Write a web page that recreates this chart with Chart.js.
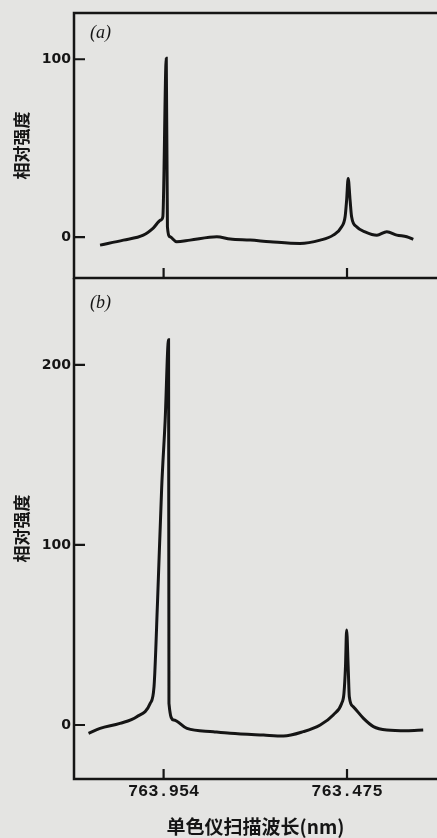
<!DOCTYPE html>
<html>
<head>
<meta charset="utf-8">
<script src="https://cdn.jsdelivr.net/npm/chart.js@4"></script>
<style>
  html, body { margin: 0; padding: 0; background: #e4e4e2; }
  #wrap { position: relative; width: 437px; height: 838px; overflow: hidden; }
  canvas { position: absolute; left: 0; }
  #ca { top: 0; }
  #cb { top: 278px; }
</style>
</head>
<body>
<div id="wrap">
  <canvas id="ca" width="437" height="280"></canvas>
  <canvas id="cb" width="437" height="560"></canvas>
</div>
<script>
// ---- data ----
const xTickValues = [763.954, 763.475];
const xTickLabels = ['763.954', '763.475'];
const yTicksA = [0, 100];
const yTicksB = [0, 100, 200];
const yTitle = '相对强度';
const xTitle = '单色仪扫描波长(nm)';
const panelLabels = ['(a)', '(b)'];

// panel (a): monochromator wavelength (nm) vs relative intensity
const wavelengthA = [764.120, 764.059, 764.007, 763.981, 763.961, 763.956, 763.947, 763.944, 763.937,
  763.920, 763.885, 763.815, 763.780, 763.728, 763.676, 763.598, 763.545, 763.511, 763.489, 763.480,
  763.476, 763.472, 763.467, 763.463, 763.450, 763.428, 763.397, 763.371, 763.345, 763.319, 763.302];
const intensityA = [-4.5, -1.7, 1.1, 5.1, 9.6, 11.4, 100.5, 5.8, 0.2,
  -2.6, -1.7, 0.2, -1.1, -1.7, -2.6, -3.6, -1.7, 1.1, 5.8, 11.4,
  20.8, 33, 20.8, 11.4, 5.8, 3.0, 1.1, 3.0, 1.1, 0.2, -1.3];

// panel (b)
const wavelengthB = [764.150, 764.120, 764.068, 764.024, 763.989, 763.979, 763.970, 763.959, 763.950,
  763.941, 763.940, 763.928, 763.893, 763.824, 763.780, 763.693, 763.641, 763.589, 763.545, 763.511,
  763.489, 763.483, 763.479, 763.476, 763.472, 763.469, 763.459, 763.432, 763.406, 763.371, 763.319, 763.276];
const intensityB = [-4.6, -1.9, 0.9, 4.6, 12, 21.3, 67.6, 132, 169,
  214, 12, 2.8, -1.9, -3.7, -4.6, -5.6, -6.1, -3.7, 0, 5.6,
  12, 17.6, 32.4, 52.8, 32.4, 15.7, 10.2, 3.7, -0.9, -2.8, -3.2, -2.8];

const xMin = 763.240, xMax = 764.188;
const INK = '#151515';

const framePlugin = {
  id: 'frame',
  afterDraw(chart, args, opts) {
    const {ctx, chartArea: {left, top, right, bottom}} = chart;
    const xs = chart.scales.x, ys = chart.scales.y;
    ctx.save();
    ctx.strokeStyle = INK;
    ctx.lineWidth = 2.5;
    ctx.lineCap = 'square';
    ctx.beginPath();
    if (opts.drawTop) { ctx.moveTo(left, top); ctx.lineTo(right, top); }
    ctx.moveTo(left, top); ctx.lineTo(left, bottom); ctx.lineTo(right, bottom);
    ctx.stroke();
    ctx.lineCap = 'butt';
    ctx.lineWidth = 2.2;
    ctx.beginPath();
    opts.yTicks.forEach(v => {
      const py = ys.getPixelForValue(v);
      ctx.moveTo(left, py); ctx.lineTo(left + 11, py);
    });
    xTickValues.forEach(v => {
      const px = xs.getPixelForValue(v);
      ctx.moveTo(px, bottom); ctx.lineTo(px, bottom - 10);
    });
    ctx.stroke();
    ctx.fillStyle = INK;
    ctx.font = 'italic 18px "Liberation Serif"';
    ctx.textBaseline = 'middle';
    ctx.textAlign = 'left';
    ctx.fillText(opts.label, left + 16, top + opts.labelDy);
    ctx.restore();
  }
};

function yAxis(min, max, ticks) {
  return {
    type: 'linear', min, max,
    grid: { display: false, drawTicks: false },
    border: { display: false },
    afterBuildTicks: s => { s.ticks = ticks.map(v => ({ value: v })); },
    afterFit: s => { s.width = 74; s.paddingTop = 0; s.paddingBottom = 0; },
    ticks: {
      padding: 3, color: INK,
      font: { family: 'DejaVu Sans', size: 14, weight: 'bold' },
      callback: v => String(v)
    },
    title: {
      display: true, text: yTitle, color: INK,
      font: { family: 'Noto Sans CJK SC', size: 17, weight: 'bold' },
      padding: { top: 11, bottom: 0 }
    }
  };
}

function dataset(xs, ys) {
  return {
    data: xs.map((x, i) => ({ x, y: ys[i] })),
    borderColor: INK, borderWidth: 3, pointRadius: 0,
    cubicInterpolationMode: 'monotone', fill: false
  };
}

new Chart(document.getElementById('ca'), {
  type: 'line',
  data: { datasets: [dataset(wavelengthA, intensityA)] },
  options: {
    responsive: false, animation: false,
    layout: { padding: { top: 13, bottom: 2, left: 0, right: 0 } },
    plugins: { legend: { display: false }, tooltip: { enabled: false },
      frame: { drawTop: true, yTicks: yTicksA, label: panelLabels[0], labelDy: 20 } },
    scales: {
      x: { type: 'linear', min: xMin, max: xMax, reverse: true, display: false },
      y: yAxis(-23, 126, yTicksA)
    }
  },
  plugins: [framePlugin]
});

new Chart(document.getElementById('cb'), {
  type: 'line',
  data: { datasets: [dataset(wavelengthB, intensityB)] },
  options: {
    responsive: false, animation: false,
    layout: { padding: { top: 0, bottom: 0, left: 0, right: 0 } },
    plugins: { legend: { display: false }, tooltip: { enabled: false },
      frame: { drawTop: false, yTicks: yTicksB, label: panelLabels[1], labelDy: 25 } },
    scales: {
      x: {
        type: 'linear', min: xMin, max: xMax, reverse: true,
        grid: { display: false, drawTicks: false },
        border: { display: false },
        afterBuildTicks: s => { s.ticks = xTickValues.map(v => ({ value: v })); },
        afterFit: s => { s.height = 59; s.paddingLeft = 0; s.paddingRight = 0; },
        ticks: {
          padding: 3, color: INK, maxRotation: 0, autoSkip: false,
          font: { family: 'Liberation Mono', size: 17, weight: 'bold' },
          callback: (v, i) => xTickLabels[i]
        },
        title: {
          display: true, text: xTitle, color: INK,
          font: { family: 'Noto Sans CJK SC', size: 19, weight: 'bold' },
          padding: { top: 0, bottom: 0 }
        }
      },
      y: yAxis(-30, 248.3, yTicksB)
    }
  },
  plugins: [framePlugin]
});
</script>
</body>
</html>
